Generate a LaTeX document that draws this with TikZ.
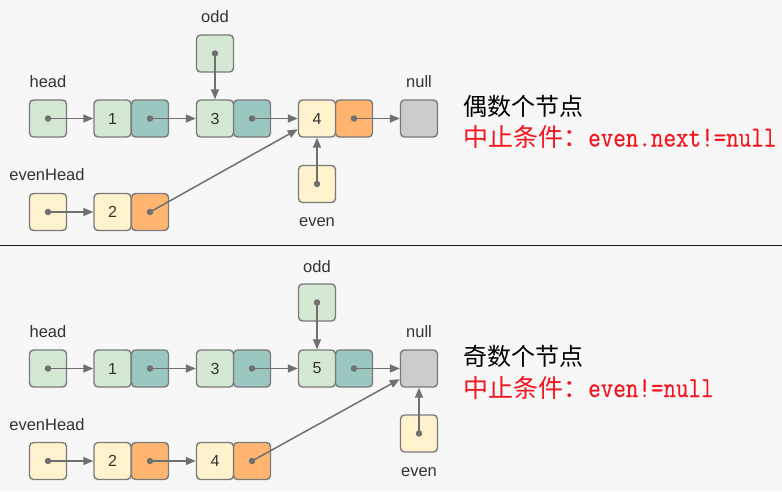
\documentclass[tikz,border=0pt]{standalone}
\usepackage{fontspec}
\setmainfont{Liberation Sans}
\newfontfamily\cjk{Noto Sans CJK SC}
\newfontfamily\mono[FakeStretch=0.84,FakeBold=0.4]{Latin Modern Mono}
\usetikzlibrary{arrows.meta}
\definecolor{bgc}{HTML}{F7F7F7}
\definecolor{glight}{HTML}{D5E8D4}
\definecolor{gdark}{HTML}{9AC7BF}
\definecolor{ylight}{HTML}{FFF2CC}
\definecolor{ydark}{HTML}{FFB570}
\definecolor{nullc}{HTML}{CCCCCC}
\definecolor{bordc}{HTML}{7A7A7A}
\definecolor{arrc}{HTML}{707070}
\definecolor{labc}{HTML}{333333}
\definecolor{redc}{HTML}{F5141E}
\tikzset{
  cell/.style={draw=bordc, line width=1.4pt, rounded corners=4pt, minimum size=37pt,
    inner sep=0pt, text=labc, font=\fontsize{16}{16}\selectfont},
  gl/.style={cell, fill=glight},
  gd/.style={cell, fill=gdark},
  yl/.style={cell, fill=ylight},
  yd/.style={cell, fill=ydark},
  nl/.style={cell, fill=nullc},
  ptr/.style={draw=arrc, line width=1.5pt, -{Triangle[length=10pt,width=8pt]}},
  dotm/.style={circle, fill=arrc, inner sep=0pt, minimum size=6.5pt},
  lbl/.style={anchor=base, inner sep=0pt, text=labc, font=\fontsize{16.5}{16.5}\selectfont},
  ttl/.style={anchor=base west, inner sep=0pt}
}
\newcommand{\cjkt}[2]{{\cjk\fontsize{#1}{#1}\selectfont #2}}
\newcommand{\monot}[1]{{\mono\fontsize{29}{29}\selectfont #1}}
\begin{document}
\begin{tikzpicture}[x=1pt,y=-1pt]
\fill[bgc] (0,0) rectangle (782,491);
\useasboundingbox (0,0) rectangle (782,491);
\coordinate (sepL) at (0,245.5);
\coordinate (sepR) at (782,245.5);
\draw[line width=1.3pt, black!90] (sepL) -- (sepR);

% ---------------- top: even number of nodes ----------------
\node[gl] (ah) at (48,118.5) {};
\node[gd] (a1r) at (150,118.5) {};
\node[gl] (a1l) at (112.5,118.5) {1};
\node[gd] (a3r) at (252,118.5) {};
\node[gl] (a3l) at (215,118.5) {3};
\node[yd] (a4r) at (354,118.5) {};
\node[yl] (a4l) at (317,118.5) {4};
\node[nl] (anull) at (419,118.5) {};
\node[gl] (aodd) at (215,53.5) {};
\node[yl] (aeven) at (317,184) {};
\node[yl] (aeh) at (48,212) {};
\node[yd] (a2r) at (150,212) {};
\node[yl] (a2l) at (112.5,212) {2};

\node[lbl] (lah) at (48,87) {head};
\node[lbl] (laodd) at (215,22) {odd};
\node[lbl] (lanull) at (419,87) {null};
\node[lbl] (laeh) at (47,180) {evenHead};
\node[lbl] (laeven) at (317,226) {even};

\draw[ptr] (ah.center) -- (a1l);
\draw[ptr] (a1r.center) -- (a3l);
\draw[ptr] (a3r.center) -- (a4l);
\draw[ptr] (a4r.center) -- (anull);
\draw[ptr] (aodd.center) -- (a3l);
\draw[ptr] (aeven.center) -- (a4l);
\draw[ptr] (aeh.center) -- (a2l);
\draw[ptr] (a2r.center) -- (a4l);
\foreach \n in {ah,a1r,a3r,a4r,aodd,aeven,aeh,a2r} \node[dotm] at (\n.center) {};

\node[ttl] (at1) at (463,115) {\cjkt{24}{偶数个节点}};
\node[ttl, text=redc] (at2) at (463,146.5) {\cjkt{25}{中止条件：}\monot{even.next!=null}};

% ---------------- bottom: odd number of nodes ----------------
\node[gl] (bh) at (48,368.5) {};
\node[gd] (b1r) at (150,368.5) {};
\node[gl] (b1l) at (112.5,368.5) {1};
\node[gd] (b3r) at (252,368.5) {};
\node[gl] (b3l) at (215,368.5) {3};
\node[gd] (b5r) at (354,368.5) {};
\node[gl] (b5l) at (317,368.5) {5};
\node[nl] (bnull) at (419,368.5) {};
\node[gl] (bodd) at (317,302.5) {};
\node[yl] (beven) at (419,433.5) {};
\node[yl] (beh) at (48,461) {};
\node[yd] (b2r) at (150,461) {};
\node[yl] (b2l) at (112.5,461) {2};
\node[yd] (b4r) at (252,461) {};
\node[yl] (b4l) at (215,461) {4};

\node[lbl] (lbh) at (48,337) {head};
\node[lbl] (lbodd) at (317,272) {odd};
\node[lbl] (lbnull) at (419,337) {null};
\node[lbl] (lbeh) at (47,430) {evenHead};
\node[lbl] (lbeven) at (419,476) {even};

\draw[ptr] (bh.center) -- (b1l);
\draw[ptr] (b1r.center) -- (b3l);
\draw[ptr] (b3r.center) -- (b5l);
\draw[ptr] (b5r.center) -- (bnull);
\draw[ptr] (bodd.center) -- (b5l);
\draw[ptr] (beven.center) -- (bnull);
\draw[ptr] (beh.center) -- (b2l);
\draw[ptr] (b2r.center) -- (b4l);
\draw[ptr] (b4r.center) -- (bnull);
\foreach \n in {bh,b1r,b3r,b5r,bodd,beven,beh,b2r,b4r} \node[dotm] at (\n.center) {};

\node[ttl] (bt1) at (463,365) {\cjkt{24}{奇数个节点}};
\node[ttl, text=redc] (bt2) at (463,397) {\cjkt{25}{中止条件：}\monot{even!=null}};
\end{tikzpicture}
\end{document}
